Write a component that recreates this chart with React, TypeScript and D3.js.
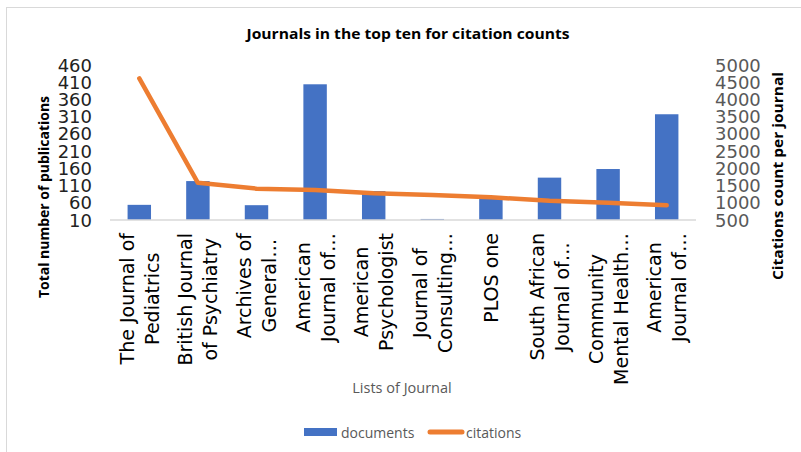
import React from "react";
import * as d3 from "d3";

const categories: string[][] = [
  ["The Journal of", "Pediatrics"],
  ["British Journal", "of Psychiatry"],
  ["Archives of", "General…"],
  ["American", "Journal of…"],
  ["American", "Psychologist"],
  ["Journal of", "Consulting…"],
  ["PLOS one"],
  ["South African", "Journal of…"],
  ["Community", "Mental Health…"],
  ["American", "Journal of…"],
];
const documents = [54, 123, 53, 404, 94, 13, 75, 133, 158, 317];
const citations = [4610, 1580, 1410, 1370, 1275, 1225, 1160, 1060, 1000, 925];
const leftTicks = [10, 60, 110, 160, 210, 260, 310, 360, 410, 460];
const rightTicks = [500, 1000, 1500, 2000, 2500, 3000, 3500, 4000, 4500, 5000];

const W = 801;
const H = 452;
const BLUE = "#4472C4";
const ORANGE = "#ED7D31";
const GRAY = "#595959";
const LABEL_FONT = '19px "DejaVu Sans"';

let ctx: CanvasRenderingContext2D | null = null;
function measure(t: string): number {
  if (!ctx) ctx = document.createElement("canvas").getContext("2d");
  if (!ctx) return t.length * 10;
  ctx.font = LABEL_FONT;
  return ctx.measureText(t).width;
}

export default function App() {
  const ids = categories.map((_, i) => String(i));
  const x = d3.scaleBand<string>().domain(ids).range([110, 696]).paddingInner(0.6).paddingOuter(0.3);
  const yL = d3.scaleLinear().domain([10, 460]).range([220, 65]);
  const yR = d3.scaleLinear().domain([500, 5000]).range([220, 65]);
  const cx = (i: number) => (x(String(i)) as number) + x.bandwidth() / 2;

  const line = d3
    .line<number>()
    .x((_, i) => cx(i))
    .y((d) => yR(d));

  return (
    <svg
      width={W}
      height={H}
      style={{ position: "absolute", left: 0, top: 0, background: "#fff" }}
    >
      <rect x={0} y={0} width={W} height={H} fill="#fff" />
      <rect x={6.5} y={7.5} width={W + 20} height={H + 20} fill="none" stroke="#d9d9d9" strokeWidth={1} />

      <text
        x={408}
        y={33}
        textAnchor="middle"
        dominantBaseline="central"
        fontFamily='"Open Sans", sans-serif'
        fontWeight="bold"
        fontSize={15}
        textLength={323}
        lengthAdjust="spacingAndGlyphs"
        fill="#000"
      >
        Journals in the top ten for citation counts
      </text>

      {/* bars */}
      {documents.map((v, i) => (
        <rect
          key={i}
          x={x(String(i))}
          y={yL(v)}
          width={x.bandwidth()}
          height={yL(10) - yL(v)}
          fill={BLUE}
        />
      ))}

      {/* baseline */}
      <line x1={110} x2={696} y1={220} y2={220} stroke="#d9d9d9" strokeWidth={1.5} />

      {/* citation line */}
      <path
        d={line(citations) || ""}
        fill="none"
        stroke={ORANGE}
        strokeWidth={4.5}
        strokeLinecap="round"
        strokeLinejoin="round"
      />

      {/* left ticks */}
      {leftTicks.map((t) => (
        <text
          key={t}
          x={92}
          y={yL(t)}
          textAnchor="end"
          dominantBaseline="central"
          fontFamily='"DejaVu Sans", sans-serif'
          fontSize={18}
          fill="#222"
        >
          {t}
        </text>
      ))}
      {/* right ticks */}
      {rightTicks.map((t) => (
        <text
          key={t}
          x={715}
          y={yR(t)}
          textAnchor="start"
          dominantBaseline="central"
          fontFamily='"DejaVu Sans", sans-serif'
          fontSize={18}
          fill={GRAY}
        >
          {t}
        </text>
      ))}

      {/* axis titles */}
      <text
        transform="translate(43,197) rotate(-90)"
        textAnchor="middle"
        dominantBaseline="central"
        fontFamily='"Open Sans", sans-serif'
        fontWeight="bold"
        fontSize={15}
        textLength={202}
        lengthAdjust="spacingAndGlyphs"
        fill="#000"
      >
        Total number of publications
      </text>
      <text
        transform="translate(777,176) rotate(-90)"
        textAnchor="middle"
        dominantBaseline="central"
        fontFamily='"Open Sans", sans-serif'
        fontWeight="bold"
        fontSize={15}
        textLength={208}
        lengthAdjust="spacingAndGlyphs"
        fill="#000"
      >
        Citations count per journal
      </text>

      {/* category labels */}
      {categories.map((lines, i) => {
        const maxW = d3.max(lines, (l) => measure(l)) || 0;
        const cy = 233 + maxW / 2;
        return lines.map((l, j) => (
          <text
            key={i + "-" + j}
            transform={`translate(${cx(i) + (j - (lines.length - 1) / 2) * 25},${cy}) rotate(-90)`}
            textAnchor="middle"
            dominantBaseline="central"
            fontFamily='"DejaVu Sans", sans-serif'
            fontSize={19}
            fill="#000"
          >
            {l}
          </text>
        ));
      })}

      <text
        x={402}
        y={387}
        textAnchor="middle"
        dominantBaseline="central"
        fontFamily='"Open Sans", sans-serif'
        fontSize={14.5}
        fill={GRAY}
      >
        Lists of Journal
      </text>

      {/* legend */}
      <rect x={304} y={428} width={33} height={8} fill={BLUE} />
      <text x={341} y={432} dominantBaseline="central" fontFamily='"Open Sans", sans-serif' fontSize={14} fill={GRAY}>
        documents
      </text>
      <line x1={430} x2={462} y1={432} y2={432} stroke={ORANGE} strokeWidth={5} strokeLinecap="round" />
      <text x={466} y={432} dominantBaseline="central" fontFamily='"Open Sans", sans-serif' fontSize={14} fill={GRAY}>
        citations
      </text>
    </svg>
  );
}
